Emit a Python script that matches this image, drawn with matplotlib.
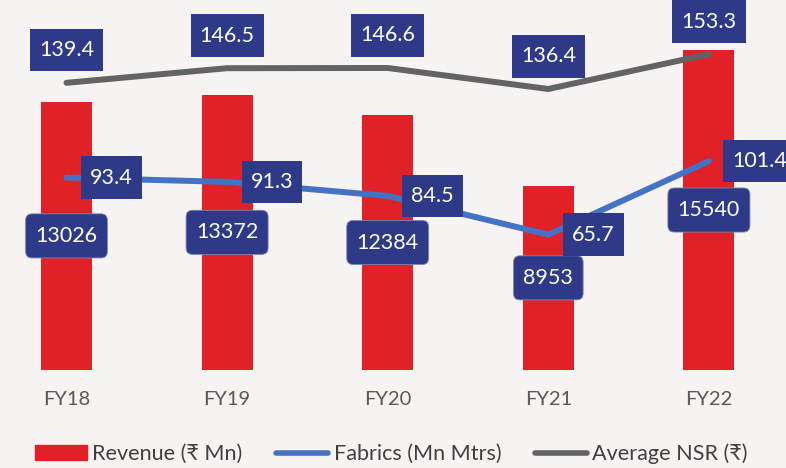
import matplotlib.pyplot as plt
from matplotlib.patches import Patch, BoxStyle
from matplotlib.lines import Line2D

plt.rcParams['font.family'] = ['Lato', 'DejaVu Sans']

# data
years = ["FY18", "FY19", "FY20", "FY21", "FY22"]
revenue = [13026, 13372, 12384, 8953, 15540]        # Revenue (Rs Mn)
fabrics = [93.4, 91.3, 84.5, 65.7, 101.4]           # Fabrics (Mn Mtrs)
avg_nsr = [139.4, 146.5, 146.6, 136.4, 153.3]       # Average NSR (Rs)

bg = "#f6f3f2"
red = "#e02128"
blue = "#4472c4"
grey = "#636363"
navy = "#2e3a87"


def make_box(padx, pady, rounding=None):
    # box with separate horizontal / vertical padding (fractions of font size)
    if rounding is None:
        base = BoxStyle.Square(pad=0)
    else:
        base = BoxStyle.Round(pad=0, rounding_size=rounding)

    def style(x0, y0, w, h, mutation_size):
        dx = padx * mutation_size
        dy = pady * mutation_size
        return base(x0 - dx, y0 - dy, w + 2 * dx, h + 2 * dy, mutation_size)
    return style


fig = plt.figure(figsize=(7.86, 4.68), dpi=100, facecolor=bg)
ax = fig.add_axes([0, 0.2094, 1, 0.7906])
ax.set_facecolor(bg)
x = list(range(len(years)))

ax.bar(x, revenue, width=0.317, color=red, zorder=2)
ax.set_ylim(0, 17970)
ax.set_xlim(-0.414, 4.48)

ax2 = ax.twinx()
ax2.set_ylim(0, 179.6)
ax2.plot(x, fabrics, color=blue, lw=4.3, solid_capstyle="round",
         solid_joinstyle="round", zorder=3)
ax2.plot(x, avg_nsr, color=grey, lw=4.3, solid_capstyle="round",
         solid_joinstyle="round", zorder=3)

for a in (ax, ax2):
    for s in a.spines.values():
        s.set_visible(False)
    a.set_yticks([])
ax.set_xticks(x)
ax.set_xticklabels(years, fontsize=14.5, color="#595959")
ax.tick_params(axis="x", length=0, pad=15)

fs = 15.5
box_sq = dict(boxstyle=make_box(0.42, 0.52), fc=navy, ec="none")
box_rd = dict(boxstyle=make_box(0.46, 0.56, rounding=0.3), fc=navy,
              ec="#7f87b8", lw=0.6)

# revenue labels in the middle of each bar
for xi, v in zip(x, revenue):
    ax.text(xi, v / 2, f"{v}", ha="center", va="center", fontsize=fs,
            color="white", bbox=box_rd, zorder=6)

# fabrics labels to the right of the point
for xi, v in zip(x, fabrics):
    ax2.annotate(f"{v}", (xi, v), xytext=(17, 0), textcoords="offset points",
                 ha="left", va="center", fontsize=fs, color="white",
                 bbox=box_sq, zorder=6, annotation_clip=False)

# NSR labels above the point
for xi, v in zip(x, avg_nsr):
    ax2.annotate(f"{v}", (xi, v), xytext=(0, 23.5), textcoords="offset points",
                 ha="center", va="center", fontsize=fs, color="white",
                 bbox=box_sq, zorder=6, annotation_clip=False)

handles = [
    Patch(color=red, label="Revenue (₹ Mn)"),
    Line2D([], [], color=blue, lw=4, solid_capstyle="round", label="Fabrics (Mn Mtrs)"),
    Line2D([], [], color=grey, lw=4, solid_capstyle="round", label="Average NSR (₹)"),
]
leg = fig.legend(handles=handles, loc="center", bbox_to_anchor=(0.498, 1 - 454 / 468),
                 ncol=3, frameon=False, fontsize=15.6, handlelength=2.4,
                 handleheight=0.65, handletextpad=0.25, columnspacing=1.55)
for t in leg.get_texts():
    t.set_color("#404040")

fig.savefig("out.png", dpi=100, facecolor=bg)
